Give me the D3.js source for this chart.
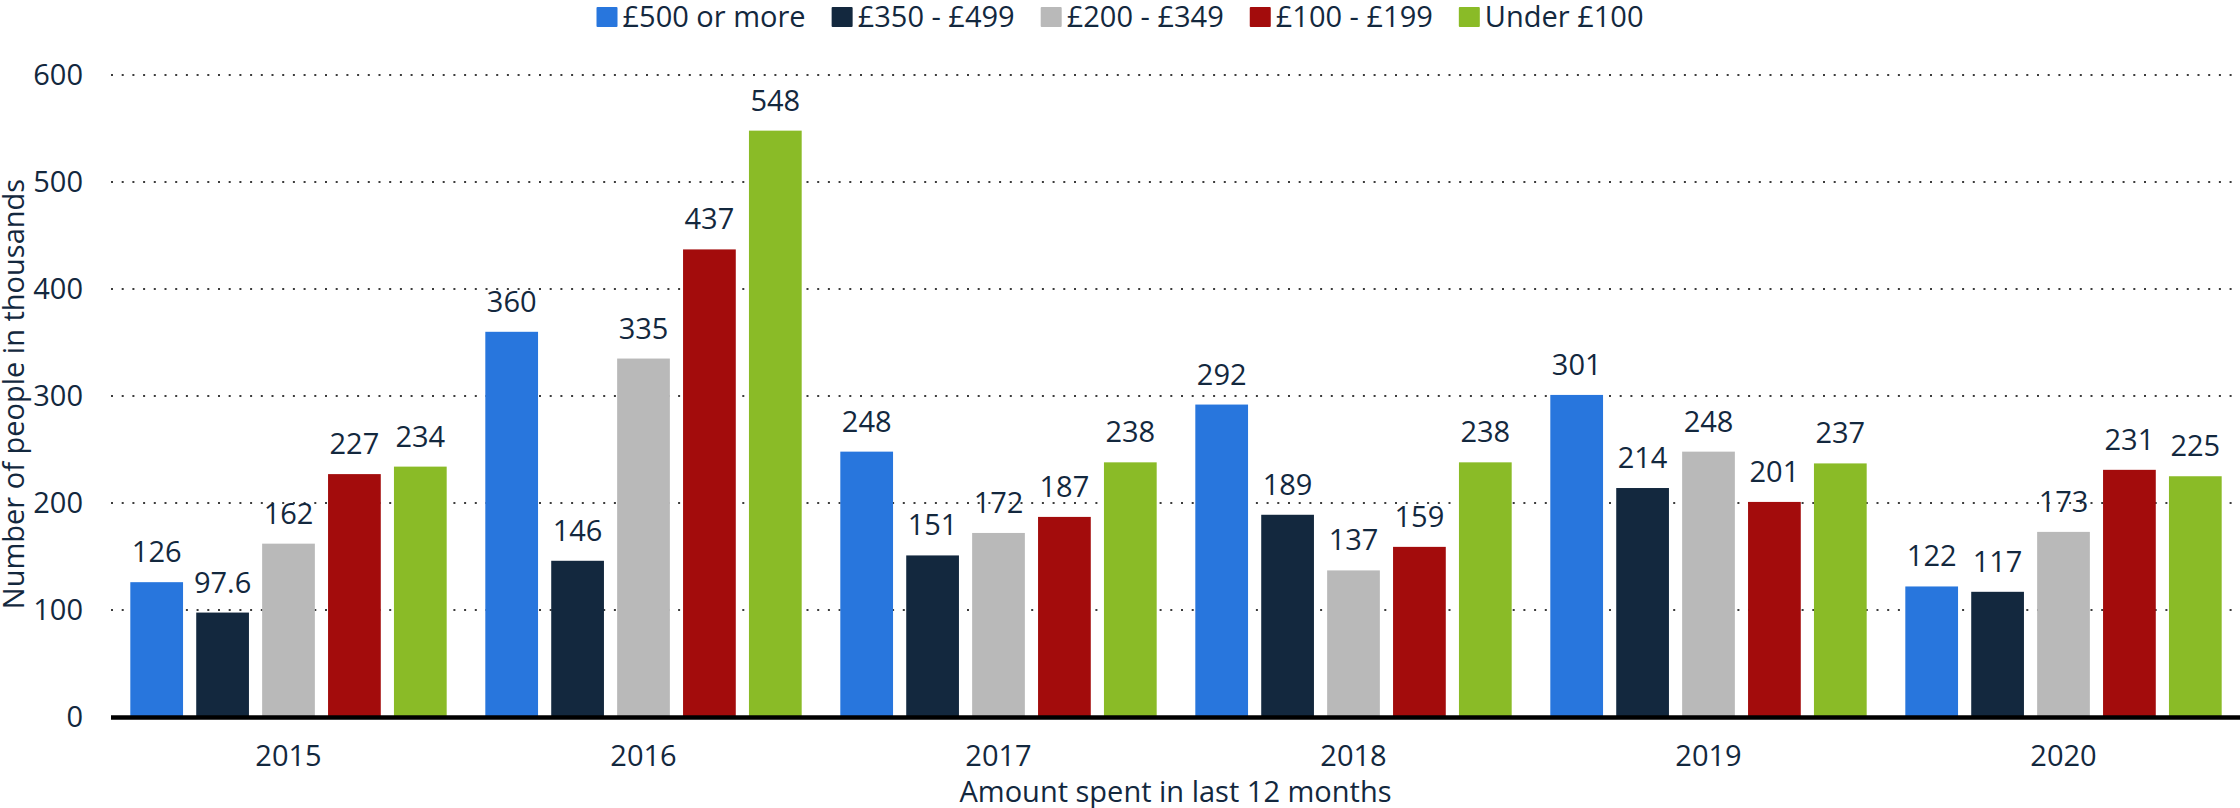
<!DOCTYPE html>
<html>
<head>
<meta charset="utf-8">
<script src="https://cdn.jsdelivr.net/npm/d3@7/dist/d3.min.js"></script>
<style>
  html, body { margin: 0; padding: 0; background: #fff; }
  svg text { font-family: "Open Sans", sans-serif; fill: #13283e; }
</style>
</head>
<body>
<svg id="chart" width="2240" height="808"></svg>
<script>
// data
const years = ["2015", "2016", "2017", "2018", "2019", "2020"];
const series = ["£500 or more", "£350 - £499", "£200 - £349", "£100 - £199", "Under £100"];
const over500  = [126, 360, 248, 292, 301, 122];
const from350  = [97.6, 146, 151, 189, 214, 117];
const from200  = [162, 335, 172, 137, 248, 173];
const from100  = [227, 437, 187, 159, 201, 231];
const under100 = [234, 548, 238, 238, 237, 225];
const yTicks = [0, 100, 200, 300, 400, 500, 600];
const colors = ["#2876dd", "#13283e", "#b9b9b9", "#a30c0c", "#8abb27"];

const allSeries = [over500, from350, from200, from100, under100];

var svg = d3.select("#chart");
var width = +svg.attr("width");
var plot = {left: 111, right: 2241, top: 75, bottom: 717};
var fontSize = 29;

var x0 = d3.scaleBand()
    .domain(years)
    .range([plot.left, plot.right]);

var x1 = d3.scaleBand()
    .domain(series)
    .range([0, x0.bandwidth()])
    .paddingInner(0.2)
    .paddingOuter(0.293);

var y = d3.scaleLinear()
    .domain([0, 600])
    .range([plot.bottom, plot.top]);

var color = d3.scaleOrdinal().domain(series).range(colors);

// dotted gridlines
svg.append("g")
    .selectAll("line")
    .data(yTicks.filter(d => d > 0))
    .enter().append("line")
    .attr("x1", plot.left)
    .attr("x2", width)
    .attr("y1", d => y(d))
    .attr("y2", d => y(d))
    .attr("stroke", "#3c3c3c")
    .attr("stroke-width", 2)
    .attr("stroke-dasharray", "2,8.7");

// y axis labels
var yAxis = svg.append("g")
    .attr("transform", "translate(" + (plot.left - 28) + ",0)")
    .call(d3.axisLeft(y).tickValues(yTicks).tickSize(0).tickPadding(0));
yAxis.select(".domain").remove();
yAxis.selectAll("text")
    .style("font-size", fontSize + "px")
    .attr("font-family", null)
    .attr("fill", null);

// bars
var rows = [];
years.forEach(function(yr, i) {
    series.forEach(function(s, j) {
        rows.push({year: yr, key: s, value: allSeries[j][i]});
    });
});

var groups = svg.append("g")
    .selectAll("g")
    .data(years)
    .enter().append("g")
    .attr("transform", d => "translate(" + x0(d) + ",0)");

groups.selectAll("rect")
    .data(d => rows.filter(r => r.year === d))
    .enter().append("rect")
    .attr("x", d => x1(d.key))
    .attr("y", d => y(d.value))
    .attr("width", x1.bandwidth())
    .attr("height", d => y(0) - y(d.value))
    .attr("fill", d => color(d.key));

groups.selectAll("text")
    .data(d => rows.filter(r => r.year === d))
    .enter().append("text")
    .attr("x", d => x1(d.key) + x1.bandwidth() / 2)
    .attr("y", d => y(d.value) - 20)
    .attr("text-anchor", "middle")
    .style("font-size", fontSize + "px")
    .text(d => String(d.value));

// baseline
svg.append("line")
    .attr("x1", plot.left)
    .attr("x2", width)
    .attr("y1", y(0) + 0.5)
    .attr("y2", y(0) + 0.5)
    .attr("stroke", "#000")
    .attr("stroke-width", 4.5);

// x axis labels
var xAxis = svg.append("g")
    .attr("transform", "translate(0," + (plot.bottom + 28) + ")")
    .call(d3.axisBottom(x0).tickSize(0).tickPadding(0));
xAxis.select(".domain").remove();
xAxis.selectAll("text")
    .attr("dy", "0.71em")
    .style("font-size", fontSize + "px")
    .attr("font-family", null)
    .attr("fill", null);

// axis titles
svg.append("text")
    .attr("x", (plot.left + width) / 2)
    .attr("y", 802)
    .attr("text-anchor", "middle")
    .style("font-size", fontSize + "px")
    .text("Amount spent in last 12 months");

svg.append("text")
    .attr("transform", "translate(24," + ((plot.top + plot.bottom) / 2 - 2) + ") rotate(-90)")
    .attr("text-anchor", "middle")
    .style("font-size", fontSize + "px")
    .text("Number of people in thousands");

// legend, centred at the top
var legend = svg.append("g");
var lx = 0;
series.forEach(function(s, i) {
    var item = legend.append("g").attr("transform", "translate(" + lx + ",0)");
    item.append("rect")
        .attr("x", 0).attr("y", 7)
        .attr("width", 21).attr("height", 20)
        .attr("rx", 1)
        .attr("fill", colors[i]);
    var t = item.append("text")
        .attr("x", 26).attr("y", 27)
        .style("font-size", fontSize + "px")
        .text(s);
    lx += 26 + t.node().getComputedTextLength() + 26;
});
lx -= 26;
legend.attr("transform", "translate(" + (width / 2 - lx / 2) + ",0)");
</script>
</body>
</html>
